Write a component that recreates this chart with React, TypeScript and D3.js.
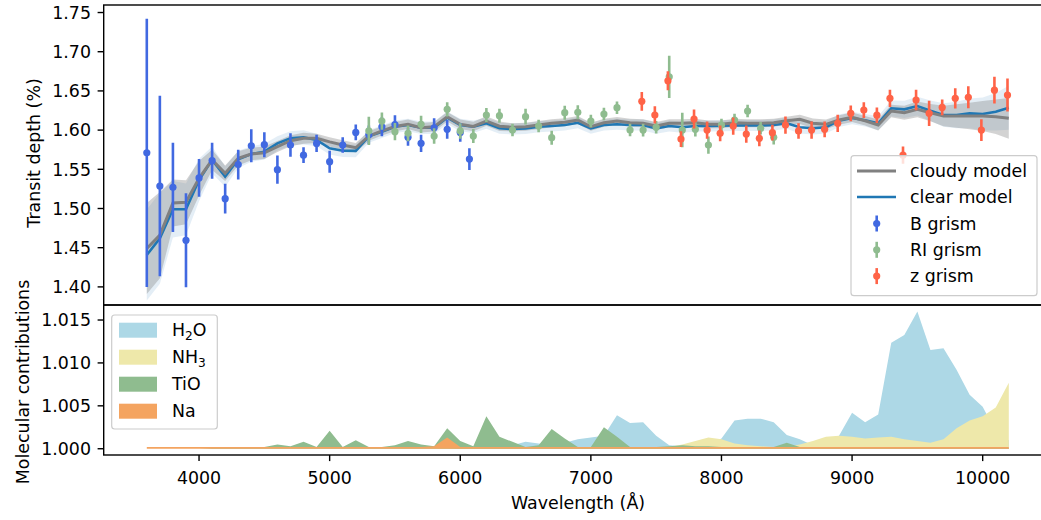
import * as d3 from 'd3';

// wavelength grid (Angstrom) shared by the models and the molecular contributions
const modelWave = [
  3600, 3700, 3800, 3900, 4000, 4100, 4200, 4300, 4400, 4500, 4600, 4700, 4800, 4900,
  5000, 5100, 5200, 5300, 5400, 5500, 5600, 5700, 5800, 5900, 6000, 6100, 6200, 6300,
  6400, 6500, 6600, 6700, 6800, 6900, 7000, 7100, 7200, 7300, 7400, 7500, 7600, 7700,
  7800, 7900, 8000, 8100, 8200, 8300, 8400, 8500, 8600, 8700, 8800, 8900, 9000, 9100,
  9200, 9300, 9400, 9500, 9600, 9700, 9800, 9900, 10000, 10100, 10200,
];

const cloudyModel = [
  1.449, 1.466, 1.507, 1.508, 1.5385, 1.562, 1.545, 1.564, 1.5695, 1.571, 1.579, 1.5865, 1.5895, 1.5895,
  1.585, 1.581, 1.5775, 1.5925, 1.599, 1.6045, 1.6074, 1.603, 1.6043, 1.617, 1.6074, 1.6047, 1.6116, 1.605,
  1.6036, 1.6043, 1.6065, 1.6087, 1.61, 1.6129, 1.6043, 1.6094, 1.6116, 1.6094, 1.6087, 1.6052, 1.6087, 1.6087,
  1.6094, 1.6074, 1.6074, 1.6094, 1.6087, 1.6087, 1.6094, 1.612, 1.6137, 1.6087, 1.6074, 1.6129, 1.6165, 1.612,
  1.6065, 1.6244, 1.6222, 1.6265, 1.6222, 1.618, 1.618, 1.618, 1.618, 1.6171, 1.615,
];

const clearModel = [
  1.4407, 1.462, 1.499, 1.499, 1.5364, 1.562, 1.5406, 1.5628, 1.5695, 1.5725, 1.5831, 1.5895, 1.5908, 1.5874,
  1.5768, 1.5737, 1.5735, 1.592, 1.598, 1.6043, 1.6065, 1.603, 1.603, 1.6159, 1.6065, 1.6043, 1.6087, 1.6023,
  1.6014, 1.602, 1.6043, 1.6052, 1.6065, 1.6094, 1.6023, 1.6065, 1.6075, 1.6065, 1.6065, 1.6023, 1.6052, 1.6036,
  1.6052, 1.6052, 1.6055, 1.6058, 1.606, 1.606, 1.6065, 1.6087, 1.6036, 1.6023, 1.6036, 1.612, 1.6155, 1.6125,
  1.6087, 1.6278, 1.6265, 1.6307, 1.6247, 1.6193, 1.6193, 1.6214, 1.6205, 1.6235, 1.6286,
];

const cloudySigma = [
  0.058, 0.055, 0.03, 0.028, 0.022, 0.013, 0.01, 0.009, 0.008, 0.008, 0.007, 0.007, 0.007, 0.006,
  0.006, 0.006, 0.006, 0.006, 0.006, 0.006, 0.006, 0.006, 0.006, 0.006, 0.006, 0.006, 0.006, 0.006,
  0.005, 0.005, 0.005, 0.005, 0.005, 0.005, 0.005, 0.005, 0.005, 0.005, 0.005, 0.005, 0.005, 0.005,
  0.005, 0.005, 0.005, 0.005, 0.005, 0.005, 0.005, 0.005, 0.006, 0.006, 0.006, 0.006, 0.006, 0.006,
  0.007, 0.008, 0.009, 0.01, 0.011, 0.013, 0.015, 0.017, 0.019, 0.022, 0.026,
];

const clearSigma = [
  0.058, 0.058, 0.036, 0.033, 0.027, 0.017, 0.013, 0.011, 0.01, 0.01, 0.009, 0.009, 0.009, 0.008,
  0.008, 0.008, 0.008, 0.008, 0.008, 0.008, 0.008, 0.008, 0.008, 0.008, 0.008, 0.008, 0.007, 0.007,
  0.007, 0.007, 0.007, 0.007, 0.007, 0.007, 0.007, 0.007, 0.007, 0.007, 0.007, 0.007, 0.007, 0.007,
  0.007, 0.007, 0.007, 0.007, 0.007, 0.007, 0.007, 0.007, 0.008, 0.008, 0.008, 0.008, 0.008, 0.008,
  0.009, 0.01, 0.011, 0.012, 0.013, 0.015, 0.017, 0.019, 0.021, 0.024, 0.028,
];

// B grism
const bWave = [3600, 3700, 3800, 3900, 4000, 4100, 4200, 4300, 4400, 4500, 4600, 4700, 4800, 4900, 5000, 5100, 5200, 5300, 5400, 5500, 5600, 5700, 5800, 5900, 6000, 6070];
const bDepth = [1.571, 1.5287, 1.527, 1.4594, 1.539, 1.561, 1.5125, 1.556, 1.58, 1.5814, 1.5495, 1.581, 1.568, 1.583, 1.5597, 1.581, 1.597, 1.594, 1.6043, 1.607, 1.591, 1.5831, 1.603, 1.601, 1.597, 1.563];
const bErr = [0.171, 0.115, 0.057, 0.06, 0.024, 0.023, 0.019, 0.019, 0.021, 0.016, 0.018, 0.015, 0.01, 0.011, 0.014, 0.01, 0.01, 0.012, 0.012, 0.012, 0.011, 0.011, 0.012, 0.012, 0.012, 0.014];

// RI grism
const riWave = [5300, 5400, 5500, 5600, 5700, 5800, 5900, 6000, 6100, 6200, 6300, 6400, 6500, 6600, 6700, 6800, 6900, 7000, 7100, 7200, 7300, 7400, 7500, 7600, 7700, 7800, 7900, 8000, 8100, 8200, 8300, 8400];
const riDepth = [1.5989, 1.6116, 1.598, 1.5959, 1.6074, 1.5925, 1.6265, 1.5989, 1.5925, 1.6193, 1.6184, 1.6001, 1.6171, 1.6052, 1.5903, 1.6222, 1.6227, 1.6116, 1.6205, 1.6286, 1.6001, 1.6, 1.6036, 1.668, 1.6, 1.601, 1.581, 1.6065, 1.6129, 1.6244, 1.6023, 1.5908];
const riErr = [0.018, 0.011, 0.011, 0.01, 0.011, 0.01, 0.009, 0.01, 0.009, 0.009, 0.009, 0.008, 0.01, 0.008, 0.009, 0.009, 0.009, 0.008, 0.008, 0.008, 0.008, 0.008, 0.008, 0.027, 0.022, 0.009, 0.011, 0.008, 0.008, 0.008, 0.008, 0.009];

// z grism
const zWave = [7390, 7490, 7590, 7690, 7790, 7890, 7990, 8090, 8190, 8290, 8390, 8490, 8590, 8690, 8790, 8890, 8990, 9090, 9190, 9290, 9390, 9490, 9590, 9690, 9790, 9890, 9990, 10090, 10190];
const zDepth = [1.6367, 1.6193, 1.663, 1.5886, 1.6142, 1.6, 1.5959, 1.6052, 1.595, 1.5895, 1.5967, 1.6065, 1.5989, 1.6, 1.601, 1.6087, 1.6214, 1.6256, 1.619, 1.6405, 1.568, 1.6384, 1.6214, 1.629, 1.6405, 1.6418, 1.6, 1.651, 1.6448];
const zErr = [0.012, 0.011, 0.012, 0.01, 0.012, 0.011, 0.01, 0.011, 0.011, 0.01, 0.01, 0.011, 0.01, 0.011, 0.01, 0.011, 0.01, 0.01, 0.01, 0.011, 0.011, 0.013, 0.016, 0.01, 0.013, 0.014, 0.014, 0.017, 0.021];

// molecular contributions on modelWave
const h2o = [
  1.0, 1.0, 1.0, 1.0, 1.0, 1.0, 1.0, 1.0, 1.0, 1.0, 1.0, 1.0, 1.0, 1.0,
  1.0, 1.0, 1.0, 1.0, 1.0, 1.0, 1.0, 1.0, 1.0, 1.0, 1.0001, 1.0001, 1.0002, 1.0003,
  1.0004, 1.0008, 1.0006, 1.0004, 1.0007, 1.0011, 1.0013, 1.0015, 1.0039, 1.003, 1.0031, 1.0015, 1.0004, 1.0003,
  1.0003, 1.0005, 1.0012, 1.0033, 1.0035, 1.0035, 1.0031, 1.0016, 1.0011, 1.0004, 1.0006, 1.0015, 1.0042, 1.0031,
  1.004, 1.01235, 1.01325, 1.016, 1.0115, 1.0117, 1.0092, 1.0063, 1.0049, 1.002, 1.001,
];
const nh3 = [
  1.0, 1.0, 1.0, 1.0, 1.0, 1.0, 1.0, 1.0, 1.0, 1.0, 1.0, 1.0, 1.0, 1.0,
  1.0, 1.0, 1.0, 1.0, 1.0, 1.0, 1.0, 1.0, 1.0, 1.0, 1.0001, 1.0001, 1.0001, 1.0001,
  1.0001, 1.0001, 1.0001, 1.0001, 1.0001, 1.0001, 1.0001, 1.0001, 1.0001, 1.0002, 1.0002, 1.0002, 1.0002, 1.0005,
  1.0009, 1.0013, 1.0011, 1.0006, 1.0004, 1.0003, 1.0002, 1.0002, 1.0005, 1.0009, 1.0014, 1.0015, 1.0014, 1.0012,
  1.0013, 1.0014, 1.0011, 1.0009, 1.0007, 1.0011, 1.0024, 1.0033, 1.0038, 1.0048, 1.0077,
];
const tio = [
  1.0, 1.0, 1.0, 1.0, 1.0, 1.0001, 1.0001, 1.0001, 1.0001, 1.0002, 1.0005, 1.0003, 1.0008, 1.0002,
  1.0021, 1.0002, 1.001, 1.0002, 1.0002, 1.0004, 1.0009, 1.0005, 1.0003, 1.0024, 1.0009, 1.0003, 1.0038, 1.0014,
  1.0008, 1.0002, 1.0004, 1.0023, 1.0012, 1.0002, 1.0002, 1.0025, 1.0014, 1.0002, 1.0002, 1.0002, 1.0003, 1.0004,
  1.0003, 1.0003, 1.0002, 1.0001, 1.0001, 1.0001, 1.0002, 1.0007, 1.0002, 1.0001, 1.0001, 1.0001, 1.0001, 1.0001,
  1.0001, 1.0001, 1.0001, 1.0001, 1.0001, 1.0001, 1.0001, 1.0001, 1.0001, 1.0001, 1.0001,
];
const na = [
  1.0002, 1.0002, 1.0002, 1.0002, 1.0002, 1.0002, 1.0002, 1.0002, 1.0002, 1.0002, 1.0002, 1.0002, 1.0002, 1.0002,
  1.0002, 1.0002, 1.0002, 1.0002, 1.0002, 1.0002, 1.0002, 1.0002, 1.0003, 1.0013, 1.0002, 1.0002, 1.0002, 1.0002,
  1.0002, 1.0002, 1.0002, 1.0002, 1.0002, 1.0002, 1.0002, 1.0002, 1.0002, 1.0002, 1.0002, 1.0002, 1.0002, 1.0002,
  1.0002, 1.0002, 1.0002, 1.0002, 1.0002, 1.0002, 1.0002, 1.0002, 1.0002, 1.0002, 1.0002, 1.0002, 1.0002, 1.0002,
  1.0002, 1.0002, 1.0002, 1.0002, 1.0002, 1.0002, 1.0002, 1.0002, 1.0002, 1.0002, 1.0002,
];

const xTicks = [4000, 5000, 6000, 7000, 8000, 9000, 10000];
const topTicks = [1.4, 1.45, 1.5, 1.55, 1.6, 1.65, 1.7, 1.75];
const botTicks = [1.0, 1.005, 1.01, 1.015];

const FONT = 'DejaVu Sans, sans-serif';
const FS = 17.4;

const x = d3.scaleLinear().domain([3270, 10530]).range([103.7, 1051.9]);
const yTop = d3.scaleLinear().domain([1.3769, 1.7596]).range([305, 5]);
const yBot = d3.scaleLinear().domain([0.99927, 1.01675]).range([455, 305]);

const grisms = [
  { label: 'B grism', color: '#4169e1', wave: bWave, depth: bDepth, err: bErr },
  { label: 'RI grism', color: '#8fbc8f', wave: riWave, depth: riDepth, err: riErr },
  { label: 'z grism', color: '#ff6347', wave: zWave, depth: zDepth, err: zErr },
];

const molecules = [
  { label: ['H', '2', 'O'], color: '#add8e6', vals: h2o },
  { label: ['NH', '3', ''], color: '#eee8aa', vals: nh3 },
  { label: ['TiO', '', ''], color: '#8fbc8f', vals: tio },
  { label: ['Na', '', ''], color: '#f4a460', vals: na },
];

function App() {
  const band = (m: number[], s: number[]) =>
    d3.area<number>()
      .x((_, i) => x(modelWave[i]))
      .y0((d, i) => yTop(d - s[i]))
      .y1((d, i) => yTop(d + s[i]))(m) || '';
  const line = (m: number[]) =>
    d3.line<number>().x((_, i) => x(modelWave[i])).y((d) => yTop(d))(m) || '';
  const molArea = (v: number[]) =>
    d3.area<number>()
      .x((_, i) => x(modelWave[i]))
      .y0(yBot(1))
      .y1((d) => yBot(d))(v) || '';

  return (
    <svg width={1041} height={520} style={{ position: 'absolute', left: 0, top: 0 }} fontFamily={FONT}>
      <defs>
        <clipPath id="clipTop"><rect x={103.7} y={5} width={948} height={300} /></clipPath>
        <clipPath id="clipBot"><rect x={103.7} y={305} width={948} height={150} /></clipPath>
      </defs>
      <rect width={1041} height={520} fill="#fff" />

      {/* upper panel */}
      <g clipPath="url(#clipTop)">
        <path d={band(clearModel, clearSigma)} fill="#1f77b4" fillOpacity={0.12} />
        <path d={band(cloudyModel, cloudySigma)} fill="#808080" fillOpacity={0.35} />
        <path d={line(clearModel)} fill="none" stroke="#1f77b4" strokeWidth={2.6} />
        <path d={line(cloudyModel)} fill="none" stroke="#808080" strokeWidth={3} />
        {grisms.map((g) => (
          <g key={g.label}>
            {g.wave.map((w, i) => (
              <g key={w}>
                <line x1={x(w)} x2={x(w)} y1={yTop(g.depth[i] - g.err[i])} y2={yTop(g.depth[i] + g.err[i])} stroke={g.color} strokeWidth={2.6} />
                <circle cx={x(w)} cy={yTop(g.depth[i])} r={3.6} fill={g.color} />
              </g>
            ))}
          </g>
        ))}
      </g>
      <rect x={103.7} y={5} width={948.2} height={300} fill="none" stroke="#000" strokeWidth={1.4} />
      {topTicks.map((t) => (
        <g key={t}>
          <line x1={97.6} x2={103.7} y1={yTop(t)} y2={yTop(t)} stroke="#000" strokeWidth={1.4} />
          <text x={91} y={yTop(t)} dy="0.36em" textAnchor="end" fontSize={FS}>{t.toFixed(2)}</text>
        </g>
      ))}
      <text transform={`translate(40,153) rotate(-90)`} textAnchor="middle" fontSize={FS}>Transit depth (%)</text>

      {/* upper legend */}
      <g>
        <rect x={851} y={155.7} width={186} height={140} rx={3} fill="#fff" fillOpacity={0.8} stroke="#cccccc" strokeWidth={1.2} />
        <line x1={857} x2={896} y1={171} y2={171} stroke="#808080" strokeWidth={3} />
        <text x={910} y={171} dy="0.36em" fontSize={FS}>cloudy model</text>
        <line x1={857} x2={896} y1={197} y2={197} stroke="#1f77b4" strokeWidth={2.6} />
        <text x={910} y={197} dy="0.36em" fontSize={FS}>clear model</text>
        {grisms.map((g, i) => {
          const cy = 223.5 + i * 26.3;
          return (
            <g key={g.label}>
              <line x1={876.7} x2={876.7} y1={cy - 8} y2={cy + 8} stroke={g.color} strokeWidth={2.6} />
              <circle cx={876.7} cy={cy} r={3.6} fill={g.color} />
              <text x={910} y={cy} dy="0.36em" fontSize={FS}>{g.label}</text>
            </g>
          );
        })}
      </g>

      {/* lower panel */}
      <g clipPath="url(#clipBot)">
        {molecules.map((m) => (
          <path key={m.color} d={molArea(m.vals)} fill={m.color} />
        ))}
      </g>
      <rect x={103.7} y={305} width={948.2} height={150} fill="none" stroke="#000" strokeWidth={1.4} />
      {botTicks.map((t) => (
        <g key={t}>
          <line x1={97.6} x2={103.7} y1={yBot(t)} y2={yBot(t)} stroke="#000" strokeWidth={1.4} />
          <text x={91} y={yBot(t)} dy="0.36em" textAnchor="end" fontSize={FS}>{t.toFixed(3)}</text>
        </g>
      ))}
      {xTicks.map((t) => (
        <g key={t}>
          <line x1={x(t)} x2={x(t)} y1={455} y2={461.1} stroke="#000" strokeWidth={1.4} />
          <text x={x(t)} y={484} textAnchor="middle" fontSize={FS}>{t}</text>
        </g>
      ))}
      <text x={578} y={509} textAnchor="middle" fontSize={FS}>Wavelength (Å)</text>
      <text transform={`translate(29,382) rotate(-90)`} textAnchor="middle" fontSize={FS}>Molecular contributions</text>

      {/* lower legend */}
      <g>
        <rect x={111.7} y={315} width={105.6} height={114} rx={3} fill="#fff" fillOpacity={0.8} stroke="#cccccc" strokeWidth={1.2} />
        {molecules.map((m, i) => {
          const cy = 330.2 + i * 27;
          return (
            <g key={m.color}>
              <rect x={119} y={cy - 7.5} width={38} height={15} fill={m.color} />
              <text x={172} y={cy} dy="0.36em" fontSize={FS}>
                {m.label[0]}
                {m.label[1] && <tspan fontSize={FS * 0.7} dy="0.25em">{m.label[1]}</tspan>}
                {m.label[2] && <tspan fontSize={FS} dy={-FS * 0.7 * 0.25}>{m.label[2]}</tspan>}
              </text>
            </g>
          );
        })}
      </g>
    </svg>
  );
}

export default App;
